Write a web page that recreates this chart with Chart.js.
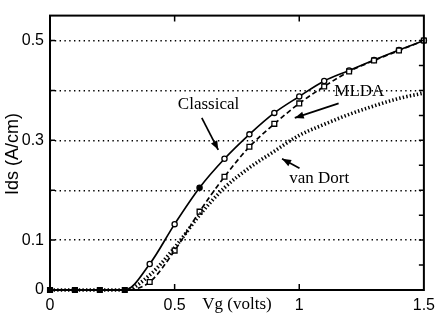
<!DOCTYPE html>
<html>
<head>
<meta charset="utf-8">
<script src="https://cdn.jsdelivr.net/npm/chart.js@4.4.0/dist/chart.umd.min.js"></script>
<style>
  html, body { margin: 0; padding: 0; background: #fff; }
  #c { display: block; }
</style>
</head>
<body>
<canvas id="c" width="441" height="320"></canvas>
<script>
// ---- data ----
const vg        = [0, 0.1, 0.2, 0.3, 0.4, 0.5, 0.6, 0.7, 0.8, 0.9, 1.0, 1.1, 1.2, 1.3, 1.4, 1.5];
const classical = [0, 0, 0, 0, 0.052, 0.132, 0.205, 0.263, 0.312, 0.355, 0.388, 0.419, 0.440, 0.461, 0.481, 0.500];
const mlda      = [0, 0, 0, 0, 0.016, 0.079, 0.157, 0.227, 0.287, 0.333, 0.374, 0.408, 0.438, 0.460, 0.480, 0.500];
const vanDort   = [0, 0, 0, 0, 0.030, 0.085, 0.150, 0.205, 0.245, 0.278, 0.310, 0.332, 0.352, 0.369, 0.384, 0.395];
const xTickValues = [0, 0.5, 1, 1.5];
const yLabeledTicks = [0, 0.1, 0.3, 0.5];
const yMinorRight = [0.05, 0.1, 0.15, 0.2, 0.25, 0.3, 0.35, 0.4, 0.45, 0.5];

const pts = arr => vg.map((x, i) => ({ x: x, y: arr[i] }));

// annotation placement (data units)
const notes = [
  { text: 'Classical', x: 0.636, y: 0.371, from: [0.609, 0.345], to: [0.675, 0.281] },
  { text: 'MLDA',      x: 1.241, y: 0.398, from: [1.158, 0.374], to: [0.982, 0.345] },
  { text: 'van Dort',  x: 1.080, y: 0.224, from: [1.001, 0.244], to: [0.931, 0.263] }
];

const serif = '"Liberation Serif", "DejaVu Serif", serif';
const sans = '"Liberation Sans", Arial, sans-serif';

function arrow(ctx, x1, y1, x2, y2) {
  ctx.beginPath();
  ctx.moveTo(x1, y1);
  ctx.lineTo(x2, y2);
  ctx.stroke();
  const a = Math.atan2(y2 - y1, x2 - x1);
  const L = 9, W = 3.5;
  ctx.beginPath();
  ctx.moveTo(x2, y2);
  ctx.lineTo(x2 - L * Math.cos(a) + W * Math.sin(a), y2 - L * Math.sin(a) - W * Math.cos(a));
  ctx.lineTo(x2 - L * Math.cos(a) - W * Math.sin(a), y2 - L * Math.sin(a) + W * Math.cos(a));
  ctx.closePath();
  ctx.fill();
}

const decor = {
  id: 'decor',
  afterDraw(chart) {
    const { ctx, chartArea: a, scales: { x, y } } = chart;
    ctx.save();
    ctx.strokeStyle = '#000';
    ctx.fillStyle = '#000';
    // frame
    ctx.lineWidth = 2;
    ctx.strokeRect(a.left, a.top, a.right - a.left, a.bottom - a.top);
    // inward ticks
    ctx.lineWidth = 1.5;
    ctx.beginPath();
    [0.1, 0.2, 0.3, 0.4, 0.5].forEach(v => {
      const py = y.getPixelForValue(v);
      ctx.moveTo(a.left, py); ctx.lineTo(a.left + 5, py);
    });
    yMinorRight.forEach(v => {
      const py = y.getPixelForValue(v);
      ctx.moveTo(a.right - 5, py); ctx.lineTo(a.right, py);
    });
    [0.5, 1].forEach(v => {
      const px = x.getPixelForValue(v);
      ctx.moveTo(px, a.bottom); ctx.lineTo(px, a.bottom - 6);
      ctx.moveTo(px, a.top); ctx.lineTo(px, a.top + 6);
    });
    ctx.stroke();
    // axis titles
    ctx.font = '17px ' + serif;
    ctx.textAlign = 'center';
    ctx.textBaseline = 'middle';
    ctx.fillText('Vg (volts)', 237, 305);
    ctx.save();
    ctx.translate(13, 154);
    ctx.rotate(-Math.PI / 2);
    ctx.font = '18px ' + sans;
    ctx.fillText('Ids (A/cm)', 0, 0);
    ctx.restore();
    // annotations
    ctx.font = '17px ' + serif;
    ctx.lineWidth = 1.7;
    notes.forEach(n => {
      ctx.fillText(n.text, x.getPixelForValue(n.x), y.getPixelForValue(n.y));
      arrow(ctx,
        x.getPixelForValue(n.from[0]), y.getPixelForValue(n.from[1]),
        x.getPixelForValue(n.to[0]), y.getPixelForValue(n.to[1]));
    });
    ctx.restore();
  }
};

new Chart(document.getElementById('c'), {
  type: 'line',
  data: {
    datasets: [
      {
        label: 'van Dort',
        data: pts(vanDort),
        borderColor: '#000',
        borderWidth: 3.6,
        borderDash: [1.4, 2.2],
        pointRadius: 0,
        cubicInterpolationMode: 'monotone',
        clip: false
      },
      {
        label: 'MLDA',
        data: pts(mlda),
        borderColor: '#000',
        borderWidth: 1.7,
        borderDash: [5, 3],
        pointStyle: 'rect',
        pointRadius: 3.4,
        pointBorderWidth: 1.3,
        pointBorderColor: '#000',
        pointBackgroundColor: vg.map((v, i) => i <= 3 ? '#000' : '#fff'),
        cubicInterpolationMode: 'monotone',
        clip: false
      },
      {
        label: 'Classical',
        data: pts(classical),
        borderColor: '#000',
        borderWidth: 1.7,
        pointStyle: 'circle',
        pointRadius: vg.map((v, i) => i <= 3 ? 0 : 2.6),
        pointBorderWidth: 1.3,
        pointBorderColor: '#000',
        pointBackgroundColor: vg.map((v, i) => i === 6 ? '#000' : '#fff'),
        cubicInterpolationMode: 'monotone',
        clip: false
      }
    ]
  },
  options: {
    responsive: false,
    animation: false,
    layout: { padding: { top: 8, right: 9, left: 0, bottom: 0 } },
    plugins: { legend: { display: false }, tooltip: { enabled: false } },
    scales: {
      x: {
        type: 'linear',
        min: 0, max: 1.5,
        afterBuildTicks: s => { s.ticks = xTickValues.map(v => ({ value: v })); },
        ticks: {
          callback: v => String(v),
          font: { family: sans, size: 16 },
          color: '#000',
          padding: 6,
          maxRotation: 0
        },
        grid: { display: false, drawTicks: false },
        border: { display: false },
        afterFit: s => { s.height = 30; }
      },
      y: {
        type: 'linear',
        min: 0, max: 0.55,
        ticks: {
          stepSize: 0.1,
          callback: v => {
            const hit = yLabeledTicks.find(t => Math.abs(t - v) < 1e-6);
            return hit === undefined ? '' : String(hit);
          },
          font: { family: sans, size: 16 },
          color: '#000',
          padding: 6
        },
        afterBuildTicks: s => { s.ticks = s.ticks.filter(t => t.value <= 0.5 + 1e-9); },
        grid: {
          drawTicks: false,
          color: c => (c.tick && c.tick.value === 0) ? 'rgba(0,0,0,0)' : '#000',
          lineWidth: 1.4,
          borderDash: [1.4, 3.4]
        },
        border: { display: false, dash: [1.4, 3.4] },
        afterFit: s => { s.width = 50; }
      }
    }
  },
  plugins: [decor]
});
</script>
</body>
</html>
